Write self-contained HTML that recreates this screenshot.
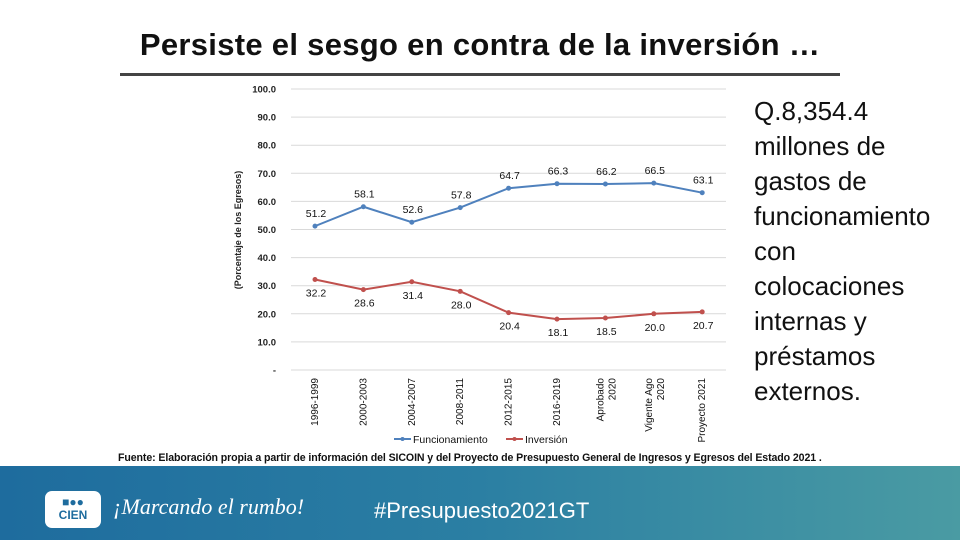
<!DOCTYPE html>
<html><head><meta charset="utf-8"><style>
body{margin:0;width:960px;height:540px;overflow:hidden;background:#fff;font-family:"Liberation Sans",sans-serif;position:relative}
#title{position:absolute;left:0;width:960px;top:27px;text-align:center;font-size:31px;font-weight:bold;color:#111;letter-spacing:0.3px}
#rule{position:absolute;left:120px;top:73px;width:720px;height:3px;background:#444}
#side{position:absolute;left:754px;top:94px;font-size:26px;line-height:35px;color:#111;white-space:nowrap}
#banner{position:absolute;left:0;top:466px;width:960px;height:74px;background:linear-gradient(90deg,#1e6c9e,#2b7fa3 50%,#4a9ba3)}
#src{position:absolute;left:118px;top:452px;font-size:10.6px;font-weight:bold;color:#111;white-space:nowrap;letter-spacing:-0.1px}
</style></head><body>
<div id="title">Persiste el sesgo en contra de la inversión …</div>
<div id="rule"></div>
<div id="side">Q.8,354.4<br>millones de<br>gastos de<br>funcionamiento<br>con<br>colocaciones<br>internas y<br>préstamos<br>externos.</div>
<svg id="chart" style="position:absolute;left:0;top:0" width="960" height="540"></svg>
<div id="src">Fuente: Elaboración propia a partir de información del SICOIN y del Proyecto de Presupuesto General de Ingresos y Egresos del Estado 2021 .</div>
<div id="banner">
 <div style="position:absolute;left:45px;top:25px;width:56px;height:37px;background:#fff;border-radius:7px;color:#1e6c9e;font-weight:bold;font-size:12px;text-align:center;line-height:13px;padding-top:5px;box-sizing:border-box">■●●<br>CIEN</div>
 <div style="position:absolute;left:113px;top:28px;font-style:italic;color:#fff;font-size:22px;font-family:'Liberation Serif',serif;white-space:nowrap">¡Marcando el rumbo!</div>
 <div style="position:absolute;left:374px;top:32px;color:#fff;font-size:22px;white-space:nowrap">#Presupuesto2021GT</div>
</div>
<script>
const categories=[["1996-1999"],["2000-2003"],["2004-2007"],["2008-2011"],["2012-2015"],["2016-2019"],["Aprobado","2020"],["Vigente Ago","2020"],["Proyecto 2021"]];
const funcionamiento=[51.2,58.1,52.6,57.8,64.7,66.3,66.2,66.5,63.1];
const inversion=[32.2,28.6,31.4,28.0,20.4,18.1,18.5,20.0,20.7];
const yTicks=[0,10,20,30,40,50,60,70,80,90,100];
const ns="http://www.w3.org/2000/svg",svg=document.getElementById('chart');
const x=i=>315+i*48.4, y=v=>370-v*2.81;
function el(t,a,p){const e=document.createElementNS(ns,t);for(const k in a)e.setAttribute(k,a[k]);(p||svg).appendChild(e);return e;}
yTicks.forEach(v=>{
 const g=el('line',{x1:291,x2:726,y1:y(v),y2:y(v),stroke:'#d9d9d9'});
 
 
 const t=el('text',{x:276,y:y(v)+3.5,'text-anchor':'end','font-size':9.5,'font-weight':'bold',fill:'#222'});
 
 
 t.textContent=v===0?'-':v.toFixed(1);
});
const yt=el('text',{transform:'translate(241,230) rotate(-90)','text-anchor':'middle','font-size':9,'font-weight':'bold',fill:'#222'});


yt.textContent='(Porcentaje de los Egresos)';
categories.forEach((c,i)=>{
 c.forEach((line,j)=>{
  const t=el('text',{transform:`translate(${x(i)+3-(c.length-1)*5+j*12},378) rotate(-90)`,'text-anchor':'end','font-size':10,fill:'#111'});
  
  
  t.textContent=line;
 });
});
function series(vals,color,name,above){
 const p=el('polyline',{points:vals.map((v,i)=>x(i)+','+y(v)).join(' '),fill:'none',stroke:color,'stroke-width':2});
 
 
 vals.forEach((v,i)=>{
  const m=el('circle',{cx:x(i),cy:y(v),r:2.5,fill:color});
  
  
  const t=el('text',{x:x(i)+1,y:above?y(v)-9:y(v)+17,'text-anchor':'middle','font-size':10.5,fill:'#111'});
  
  
  t.textContent=v.toFixed(1);
 });
}
series(funcionamiento,'#4f81bd','funcionamiento',true);
series(inversion,'#c0504d','inversion',false);
[[394,'#4f81bd','Funcionamiento'],[506,'#c0504d','Inversión']].forEach(([lx,c,n])=>{
 const l=el('line',{x1:lx,x2:lx+17,y1:439,y2:439,stroke:c,'stroke-width':2});
 
 
 el('circle',{cx:lx+8.5,cy:439,r:2,fill:c});
 const t=el('text',{x:lx+19,y:443,'font-size':10.5,fill:'#111'});
 
 
 t.textContent=n;
});
</script>
</body></html>
